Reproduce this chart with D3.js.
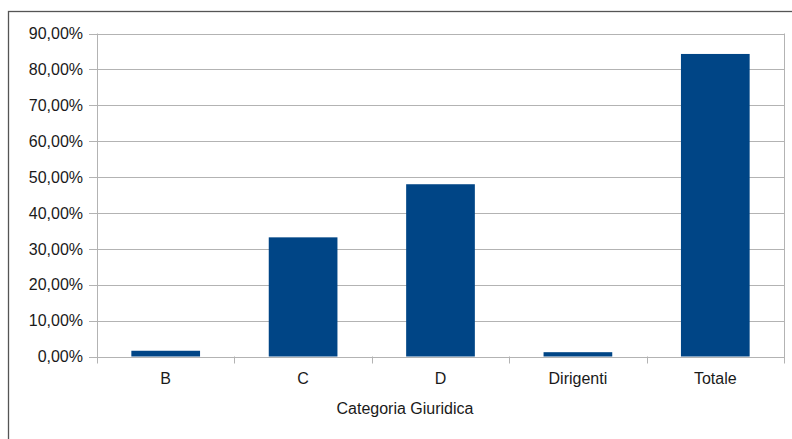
<!DOCTYPE html>
<html>
<head>
<meta charset="utf-8" />
<title>Categoria Giuridica</title>
<style>
  html, body { margin: 0; background: #fff; }
  svg text { font-family: "Liberation Sans", Arial, sans-serif; fill: #1a1a1a; }
  .grid line { stroke: #b3b3b3; stroke-width: 1px; }
</style>
</head>
<body>
<div id="container"></div>
<script src="https://cdn.jsdelivr.net/npm/d3@7"></script>
<script>
var categories = ["B", "C", "D", "Dirigenti", "Totale"];
var values = [1.6, 33.2, 48.0, 1.2, 84.3];
var yTicks = [0, 10, 20, 30, 40, 50, 60, 70, 80, 90];
var axisTitle = "Categoria Giuridica";

var width = 792, height = 439;
var plotLeft = 97, plotRight = 784, plotTop = 33.5, plotBottom = 356.5;

var svg = d3.select("#container").append("svg")
    .attr("width", width)
    .attr("height", height);

// outer frame
svg.append("rect")
    .attr("x", 8.5).attr("y", 11.5)
    .attr("width", 820).attr("height", 460)
    .attr("fill", "none")
    .attr("stroke", "#555")
    .attr("stroke-width", 1.3);

var x = d3.scaleBand()
    .domain(categories)
    .range([plotLeft, plotRight])
    .paddingInner(0.5)
    .paddingOuter(0.25);

var xb = d3.scaleBand().domain(categories).range([plotLeft, plotRight]);

var y = d3.scaleLinear()
    .domain([0, 90])
    .range([plotBottom, plotTop]);

var fmt = function(v) { return v.toFixed(2).replace(".", ",") + "%"; };

// gridlines
var grid = svg.append("g").attr("class", "grid");
grid.selectAll("line.h").data(yTicks).enter().append("line")
    .attr("x1", plotLeft - 8).attr("x2", plotRight)
    .attr("y1", function(d) { return Math.round(y(d)) + 0.5; })
    .attr("y2", function(d) { return Math.round(y(d)) + 0.5; });
grid.append("line")
    .attr("x1", plotLeft + 0.5).attr("x2", plotLeft + 0.5)
    .attr("y1", plotTop).attr("y2", plotBottom + 7);
grid.append("line")
    .attr("x1", plotRight + 0.5).attr("x2", plotRight + 0.5)
    .attr("y1", plotTop).attr("y2", plotBottom + 7);
// x ticks at band boundaries
grid.selectAll("line.xt").data(categories.slice(1)).enter().append("line")
    .attr("x1", function(d) { return Math.round(xb(d)) + 0.5; })
    .attr("x2", function(d) { return Math.round(xb(d)) + 0.5; })
    .attr("y1", plotBottom).attr("y2", plotBottom + 7);

// bars
svg.selectAll("rect.bar").data(values).enter().append("rect")
    .attr("class", "bar")
    .attr("x", function(d, i) { return x(categories[i]); })
    .attr("width", x.bandwidth())
    .attr("y", function(d) { return y(d); })
    .attr("height", function(d) { return y(0) - y(d); })
    .attr("fill", "#004586");

// y labels
svg.selectAll("text.yl").data(yTicks).enter().append("text")
    .attr("x", 83)
    .attr("y", function(d) { return y(d); })
    .attr("dy", "0.36em")
    .attr("text-anchor", "end")
    .style("font-size", "16px")
    .text(fmt);

// x labels
svg.selectAll("text.xl").data(categories).enter().append("text")
    .attr("x", function(d) { return xb(d) + xb.bandwidth() / 2; })
    .attr("y", 384)
    .attr("text-anchor", "middle")
    .style("font-size", "16px")
    .text(function(d) { return d; });

svg.append("text")
    .attr("x", 405)
    .attr("y", 414)
    .attr("text-anchor", "middle")
    .style("font-size", "16px")
    .text(axisTitle);
</script>
</body>
</html>
